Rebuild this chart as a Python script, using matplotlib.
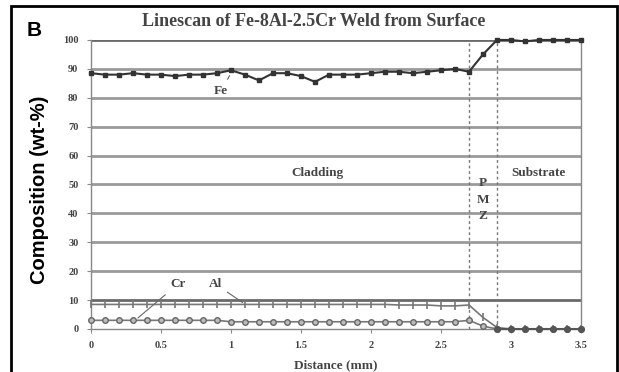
import numpy as np
import matplotlib.pyplot as plt
from matplotlib.patches import Rectangle

distance = [0.0, 0.1, 0.2, 0.3, 0.4, 0.5, 0.6, 0.7, 0.8, 0.9,
            1.0, 1.1, 1.2, 1.3, 1.4, 1.5, 1.6, 1.7, 1.8, 1.9,
            2.0, 2.1, 2.2, 2.3, 2.4, 2.5, 2.6, 2.7, 2.8, 2.9,
            3.0, 3.1, 3.2, 3.3, 3.4, 3.5]
fe = [88.5, 88, 88, 88.5, 88, 88, 87.5, 88, 88, 88.5,
      89.5, 88, 86, 88.5, 88.5, 87.5, 85.5, 88, 88, 88,
      88.5, 89, 89, 88.5, 89, 89.5, 90, 89, 95, 100,
      100, 99.5, 100, 100, 100, 100]
al = [8.5, 8.5, 8.5, 8.5, 8.5, 8.5, 8.5, 8.5, 8.5, 8.5,
      8.5, 8.5, 8.5, 8.5, 8.5, 8.5, 8.5, 8.5, 8.5, 8.5,
      8.5, 8.5, 8.3, 8.3, 8.3, 8, 8, 8.3, 4, 0.5,
      0, 0, 0, 0, 0, 0]
cr = [3, 3, 3, 3, 3, 3, 3, 3, 3, 3,
      2.5, 2.5, 2.5, 2.5, 2.5, 2.5, 2.5, 2.5, 2.5, 2.5,
      2.5, 2.5, 2.5, 2.5, 2.5, 2.5, 2.5, 3, 1, 0,
      0, 0, 0, 0, 0, 0]
zone_bounds = [2.7, 2.9]
y_ticks = np.arange(0, 101, 10)
x_ticks = [0, 0.5, 1, 1.5, 2, 2.5, 3, 3.5]
x_labels = ["0", "0.5", "1", "1.5", "2", "2.5", "3", "3.5"]

serif = "Liberation Serif"

fig = plt.figure(figsize=(6.19, 3.72), dpi=100)
# panel frame (bottom edge falls outside the picture)
fig.patches.append(Rectangle((0.018, -0.02), 0.978, 1.004, transform=fig.transFigure,
                             fill=False, edgecolor="black", linewidth=2))
ax = fig.add_axes([0.147, 0.1156, 0.7916, 0.777])
ax.set_xlim(0, 3.5)
ax.set_ylim(0, 100)

# horizontal grid bands
for v in y_ticks[1:]:
    c = "#6a6a6a" if v in (10, 100) else "#9a9a9a"
    ax.axhline(v, color=c, linewidth=2, zorder=1)

for xb in zone_bounds:
    ax.axvline(xb, color="#777777", linewidth=1, linestyle=(0, (2, 2)), zorder=1)

d = np.array(distance)
ax.plot(d, al, color="#777777", linewidth=1.2, marker="|", markersize=6,
        markeredgewidth=1.2, clip_on=False, zorder=3)
ax.plot(d, cr, color="#777777", linewidth=1.2, marker="o", markersize=4,
        markerfacecolor="#bbbbbb", markeredgecolor="#666666", clip_on=False, zorder=3)
sub = d >= 2.9
ax.plot(d[sub], np.array(cr)[sub], color="#555555", linewidth=1.5, marker="o",
        markersize=4, clip_on=False, zorder=4)
ax.plot(d, fe, color="#333333", linewidth=1.5, marker="s", markersize=3.5,
        clip_on=False, zorder=4)

ax.spines["top"].set_visible(False)
for s in ("left", "bottom", "right"):
    ax.spines[s].set_color("#888888")
    ax.spines[s].set_linewidth(1)

ax.set_yticks(y_ticks)
ax.set_yticklabels([str(v) for v in y_ticks], fontfamily=serif, fontsize=7.5,
                   color="#444444", fontweight="bold")
ax.set_xticks(x_ticks)
ax.set_xticklabels(x_labels, fontfamily=serif, fontsize=7.5, color="#444444",
                   fontweight="bold")
ax.tick_params(axis="both", length=3, color="#888888", pad=6)

fig.text(0.507, 0.942, "Linescan of Fe-8Al-2.5Cr Weld from Surface", ha="center",
         va="center", fontfamily=serif, fontweight="bold", fontsize=13, color="#444444")
ax.set_xlabel("Distance (mm)", fontfamily=serif, fontweight="bold", fontsize=9.5,
              color="#444444", labelpad=6)
fig.text(0.064, 0.49, "Composition (wt-%)", rotation=90, ha="center", va="center",
         fontfamily="Liberation Sans", fontweight="bold", fontsize=14.5)
fig.text(0.043, 0.917, "B", ha="left", va="center", fontfamily="Liberation Sans",
         fontweight="bold", fontsize=15)

tk = dict(fontfamily=serif, fontsize=9.5, color="#444444", fontweight="bold")
ax.text(1.62, 54, "Cladding", ha="center", va="center", **tk)
ax.text(3.2, 54, "Substrate", ha="center", va="center", **tk)
for lab, yv in zip(["P", "M", "Z"], [50.5, 44.5, 39]):
    ax.text(2.8, yv, lab, ha="center", va="center", **tk)

ax.annotate("Fe", xy=(1.0, 88.5), xytext=(0.93, 82.5), ha="center", va="center",
            arrowprops=dict(arrowstyle="-", color="#666666", lw=0.8), **tk)
ax.annotate("Cr", xy=(0.32, 3.2), xytext=(0.62, 15.5), ha="center", va="center",
            arrowprops=dict(arrowstyle="-", color="#666666", lw=0.8), **tk)
ax.annotate("Al", xy=(1.1, 8.6), xytext=(0.89, 15.5), ha="center", va="center",
            arrowprops=dict(arrowstyle="-", color="#666666", lw=0.8), **tk)

fig.savefig("out.png", dpi=100)
